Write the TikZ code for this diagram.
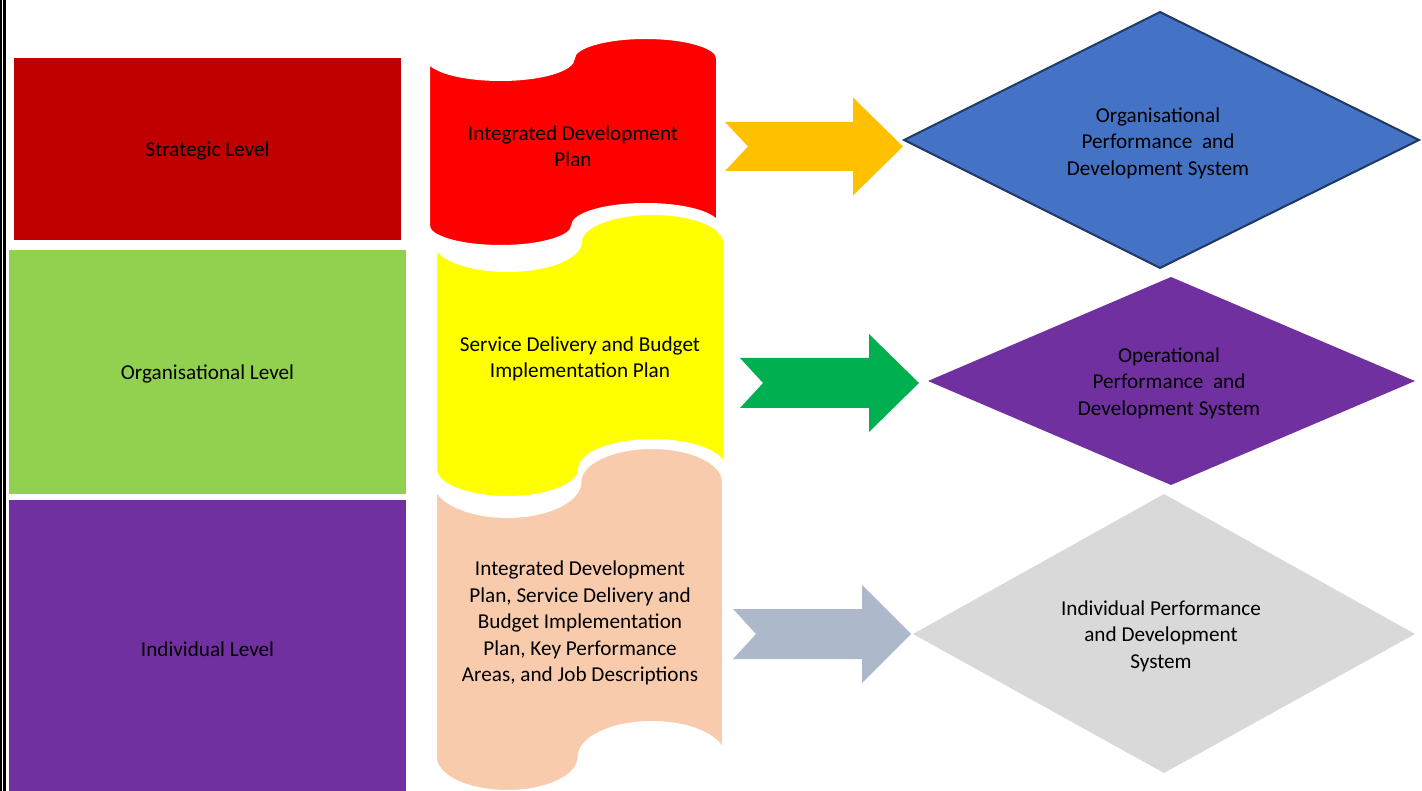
\documentclass[tikz,border=0pt]{standalone}
\usepackage{fontspec}
\setmainfont{Carlito}
\definecolor{strat}{HTML}{C00000}
\definecolor{orgg}{HTML}{92D050}
\definecolor{indp}{HTML}{7030A0}
\definecolor{peach}{HTML}{F8CBAD}
\definecolor{tapeyellow}{HTML}{FFFF00}
\definecolor{tapered}{HTML}{FF0000}
\definecolor{arrorange}{HTML}{FFC000}
\definecolor{arrgreen}{HTML}{00B050}
\definecolor{arrgrey}{HTML}{ADB9CA}
\definecolor{diablue}{HTML}{4472C4}
\definecolor{diaedge}{HTML}{1F3864}
\definecolor{diagrey}{HTML}{D9D9D9}
\newcommand{\ptape}[5]{%
  \pgfmathsetmacro\ptA{(#4-#3)/10}%
  \pgfmathsetmacro\ptR{(#2-#1)/4}%
  \path[fill=#5, draw=white, line width=4pt]
    (#1,#3+\ptA)
    arc[start angle=180,end angle=0,x radius=\ptR,y radius=\ptA]
    arc[start angle=180,end angle=360,x radius=\ptR,y radius=\ptA]
    -- (#2,#4-\ptA)
    arc[start angle=0,end angle=-180,x radius=\ptR,y radius=\ptA]
    arc[start angle=0,end angle=180,x radius=\ptR,y radius=\ptA]
    -- cycle;}
\newcommand{\notcharrow}[8]{% tail notch headbase tip cy s H color
  \fill[#8] (#1,#5-#6) -- (#3,#5-#6) -- (#3,#5-#7) -- (#4,#5) -- (#3,#5+#7)
    -- (#3,#5+#6) -- (#1,#5+#6) -- (#2,#5) -- cycle;}
\tikzset{
  lbl/.style={align=center, text=black, inner sep=0pt, yshift=-2pt,
    font=\fontsize{21.2}{26.5}\selectfont},
}
\begin{document}
\begin{tikzpicture}[x=1pt,y=-1pt]
\useasboundingbox (0,0) rectangle (1422,791);
% left double rule
\fill[black] (0,0) rectangle (1.7,791);
\fill[black] (3.3,0) rectangle (5.7,791);
% level boxes
\fill[strat] (14,58) rectangle (401,240);
\fill[orgg] (9,250) rectangle (406,494);
\fill[indp] (9,500) rectangle (406,791);
\node[lbl] (strategic) at (207.5,149) {Strategic Level};
\node[lbl] (organisational) at (207.5,372) {Organisational Level};
\node[lbl] (individual) at (207.5,647) {Individual Level};
% punched tape shapes
\ptape{435}{724}{447}{792}{peach}
\ptape{435}{725}{213}{498}{tapeyellow}
\ptape{428}{718}{37}{247}{tapered}
\node[lbl] (idp) at (573,144) {Integrated Development\\Plan};
\node[lbl] (sdbip) at (580,357) {Service Delivery and Budget\\Implementation Plan};
\node[lbl] (all) at (580,621) {Integrated Development\\Plan, Service Delivery and\\Budget Implementation\\Plan, Key Performance\\Areas, and Job Descriptions};
% arrows
\notcharrow{725}{748}{853}{903}{146.5}{24.5}{49}{arrorange}
\notcharrow{740}{763}{869}{919}{383}{25}{49}{arrgreen}
\notcharrow{733}{756}{862}{911}{634}{25}{49}{arrgrey}
% diamonds
\path[fill=diablue, draw=diaedge, line width=2pt, line join=miter]
  (904,140) -- (1160,12) -- (1419,140) -- (1160,268) -- cycle;
\fill[indp] (928,381) -- (1171,277) -- (1415,381) -- (1171,485) -- cycle;
\fill[diagrey] (913,634) -- (1164,494) -- (1415,634) -- (1164,773) -- cycle;
\node[lbl] (opds) at (1158,141) {Organisational\\Performance\ \ and\\Development System};
\node[lbl] (oppds) at (1169,381) {Operational\\Performance\ \ and\\Development System};
\node[lbl] (ipds) at (1161,634) {Individual Performance\\and Development\\System};
\end{tikzpicture}
\end{document}
